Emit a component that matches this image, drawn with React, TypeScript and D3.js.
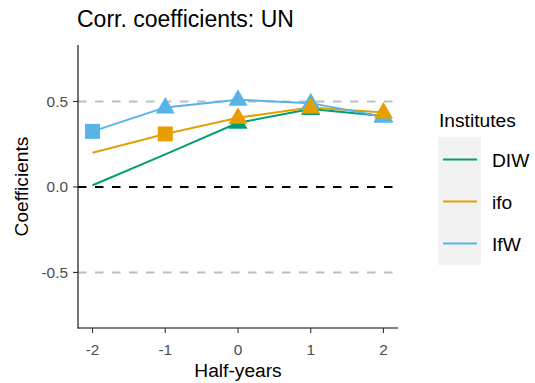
import React from "react";
import * as d3 from "d3";

const halfYears = [-2, -1, 0, 1, 2];
const institutes = ["DIW", "ifo", "IfW"];
const colors = ["#009E73", "#E69F00", "#56B4E9"];
const diwValues = [0.01, 0.19, 0.375, 0.455, 0.415];
const ifoValues = [0.2, 0.31, 0.405, 0.465, 0.435];
const ifwValues = [0.325, 0.465, 0.51, 0.49, 0.41];
// marker shapes per point: "none" | "square" | "triangle"
const diwShapes = ["none", "none", "triangle", "triangle", "triangle"];
const ifoShapes = ["none", "square", "triangle", "triangle", "triangle"];
const ifwShapes = ["square", "triangle", "triangle", "triangle", "triangle"];
const yTicks = [-0.5, 0, 0.5];
const xTicks = [-2, -1, 0, 1, 2];
const hLinesGray = [-0.5, 0.5];

export default function App() {
  const W = 535, H = 383;
  const left = 78, right = 398, top = 45, bottom = 328;
  const x = d3.scaleLinear().domain([-2.2, 2.2]).range([left, right]);
  const y = d3.scaleLinear().domain([-0.825, 0.83]).range([bottom, top]);
  const series = [
    { name: institutes[0], values: diwValues, shapes: diwShapes, color: colors[0] },
    { name: institutes[1], values: ifoValues, shapes: ifoShapes, color: colors[1] },
    { name: institutes[2], values: ifwValues, shapes: ifwShapes, color: colors[2] },
  ];
  const line = d3.line<number>().x((_, i) => x(halfYears[i])).y((d) => y(d));
  const pointOrder = [0, 2, 1];
  const tri = (cx: number, cy: number) => {
    const w = 9.5, hTop = 10.5, hBot = 6;
    return `M${cx},${cy - hTop}L${cx + w},${cy + hBot}L${cx - w},${cy + hBot}Z`;
  };
  const font = "Liberation Sans, Arial, sans-serif";
  const legY = [159.5, 201.5, 243.5];
  return (
    <svg width={W} height={H} style={{ position: "absolute", left: 0, top: 0, background: "#fff" }} fontFamily={font}>
      <text x={77} y={27} fontSize={23} fill="#000">Corr. coefficients: UN</text>
      {hLinesGray.map((v) => (
        <line key={v} x1={left} x2={right} y1={y(v)} y2={y(v)} stroke="#bebebe" strokeWidth={2} strokeDasharray="8.5,8.5" />
      ))}
      <line x1={left} x2={right} y1={y(0)} y2={y(0)} stroke="#000" strokeWidth={2} strokeDasharray="8.5,8.5" />
      {series.map((s) => (
        <path key={s.name} d={line(s.values) || ""} fill="none" stroke={s.color} strokeWidth={2} />
      ))}
      {pointOrder.map((si) => {
        const s = series[si];
        return (
          <g key={s.name}>
            {s.values.map((v, i) => {
              const cx = x(halfYears[i]), cy = y(v);
              if (s.shapes[i] === "square")
                return <rect key={i} x={cx - 7.5} y={cy - 7.5} width={15} height={15} fill={s.color} />;
              if (s.shapes[i] === "triangle") return <path key={i} d={tri(cx, cy)} fill={s.color} />;
              return null;
            })}
          </g>
        );
      })}
      <line x1={left} x2={left} y1={top} y2={bottom + 0.5} stroke="#000" strokeWidth={1.1} />
      <line x1={left} x2={right} y1={bottom} y2={bottom} stroke="#000" strokeWidth={1.1} />
      {yTicks.map((t) => (
        <g key={t}>
          <line x1={left - 5} x2={left} y1={y(t)} y2={y(t)} stroke="#333" strokeWidth={1.1} />
          <text x={left - 10} y={y(t) + 5.5} fontSize={15.4} fill="#4d4d4d" textAnchor="end">{t.toFixed(1)}</text>
        </g>
      ))}
      {xTicks.map((t) => (
        <g key={t}>
          <line x1={x(t)} x2={x(t)} y1={bottom} y2={bottom + 5} stroke="#333" strokeWidth={1.1} />
          <text x={x(t)} y={bottom + 26.5} fontSize={15.4} fill="#4d4d4d" textAnchor="middle">{t}</text>
        </g>
      ))}
      <text x={(left + right) / 2} y={377} fontSize={19.2} textAnchor="middle" fill="#000">Half-years</text>
      <text transform={`translate(28,${(top + bottom) / 2}) rotate(-90)`} fontSize={19.2} textAnchor="middle" fill="#000">Coefficients</text>
      <text x={439} y={127} fontSize={19.2} fill="#000">Institutes</text>
      <rect x={438} y={137} width={43} height={128} fill="#f2f2f2" />
      {series.map((s, i) => (
        <g key={s.name}>
          <line x1={443} x2={477} y1={legY[i]} y2={legY[i]} stroke={s.color} strokeWidth={2} />
          <text x={492} y={legY[i] + 7} fontSize={19.2} fill="#000">{s.name}</text>
        </g>
      ))}
    </svg>
  );
}
